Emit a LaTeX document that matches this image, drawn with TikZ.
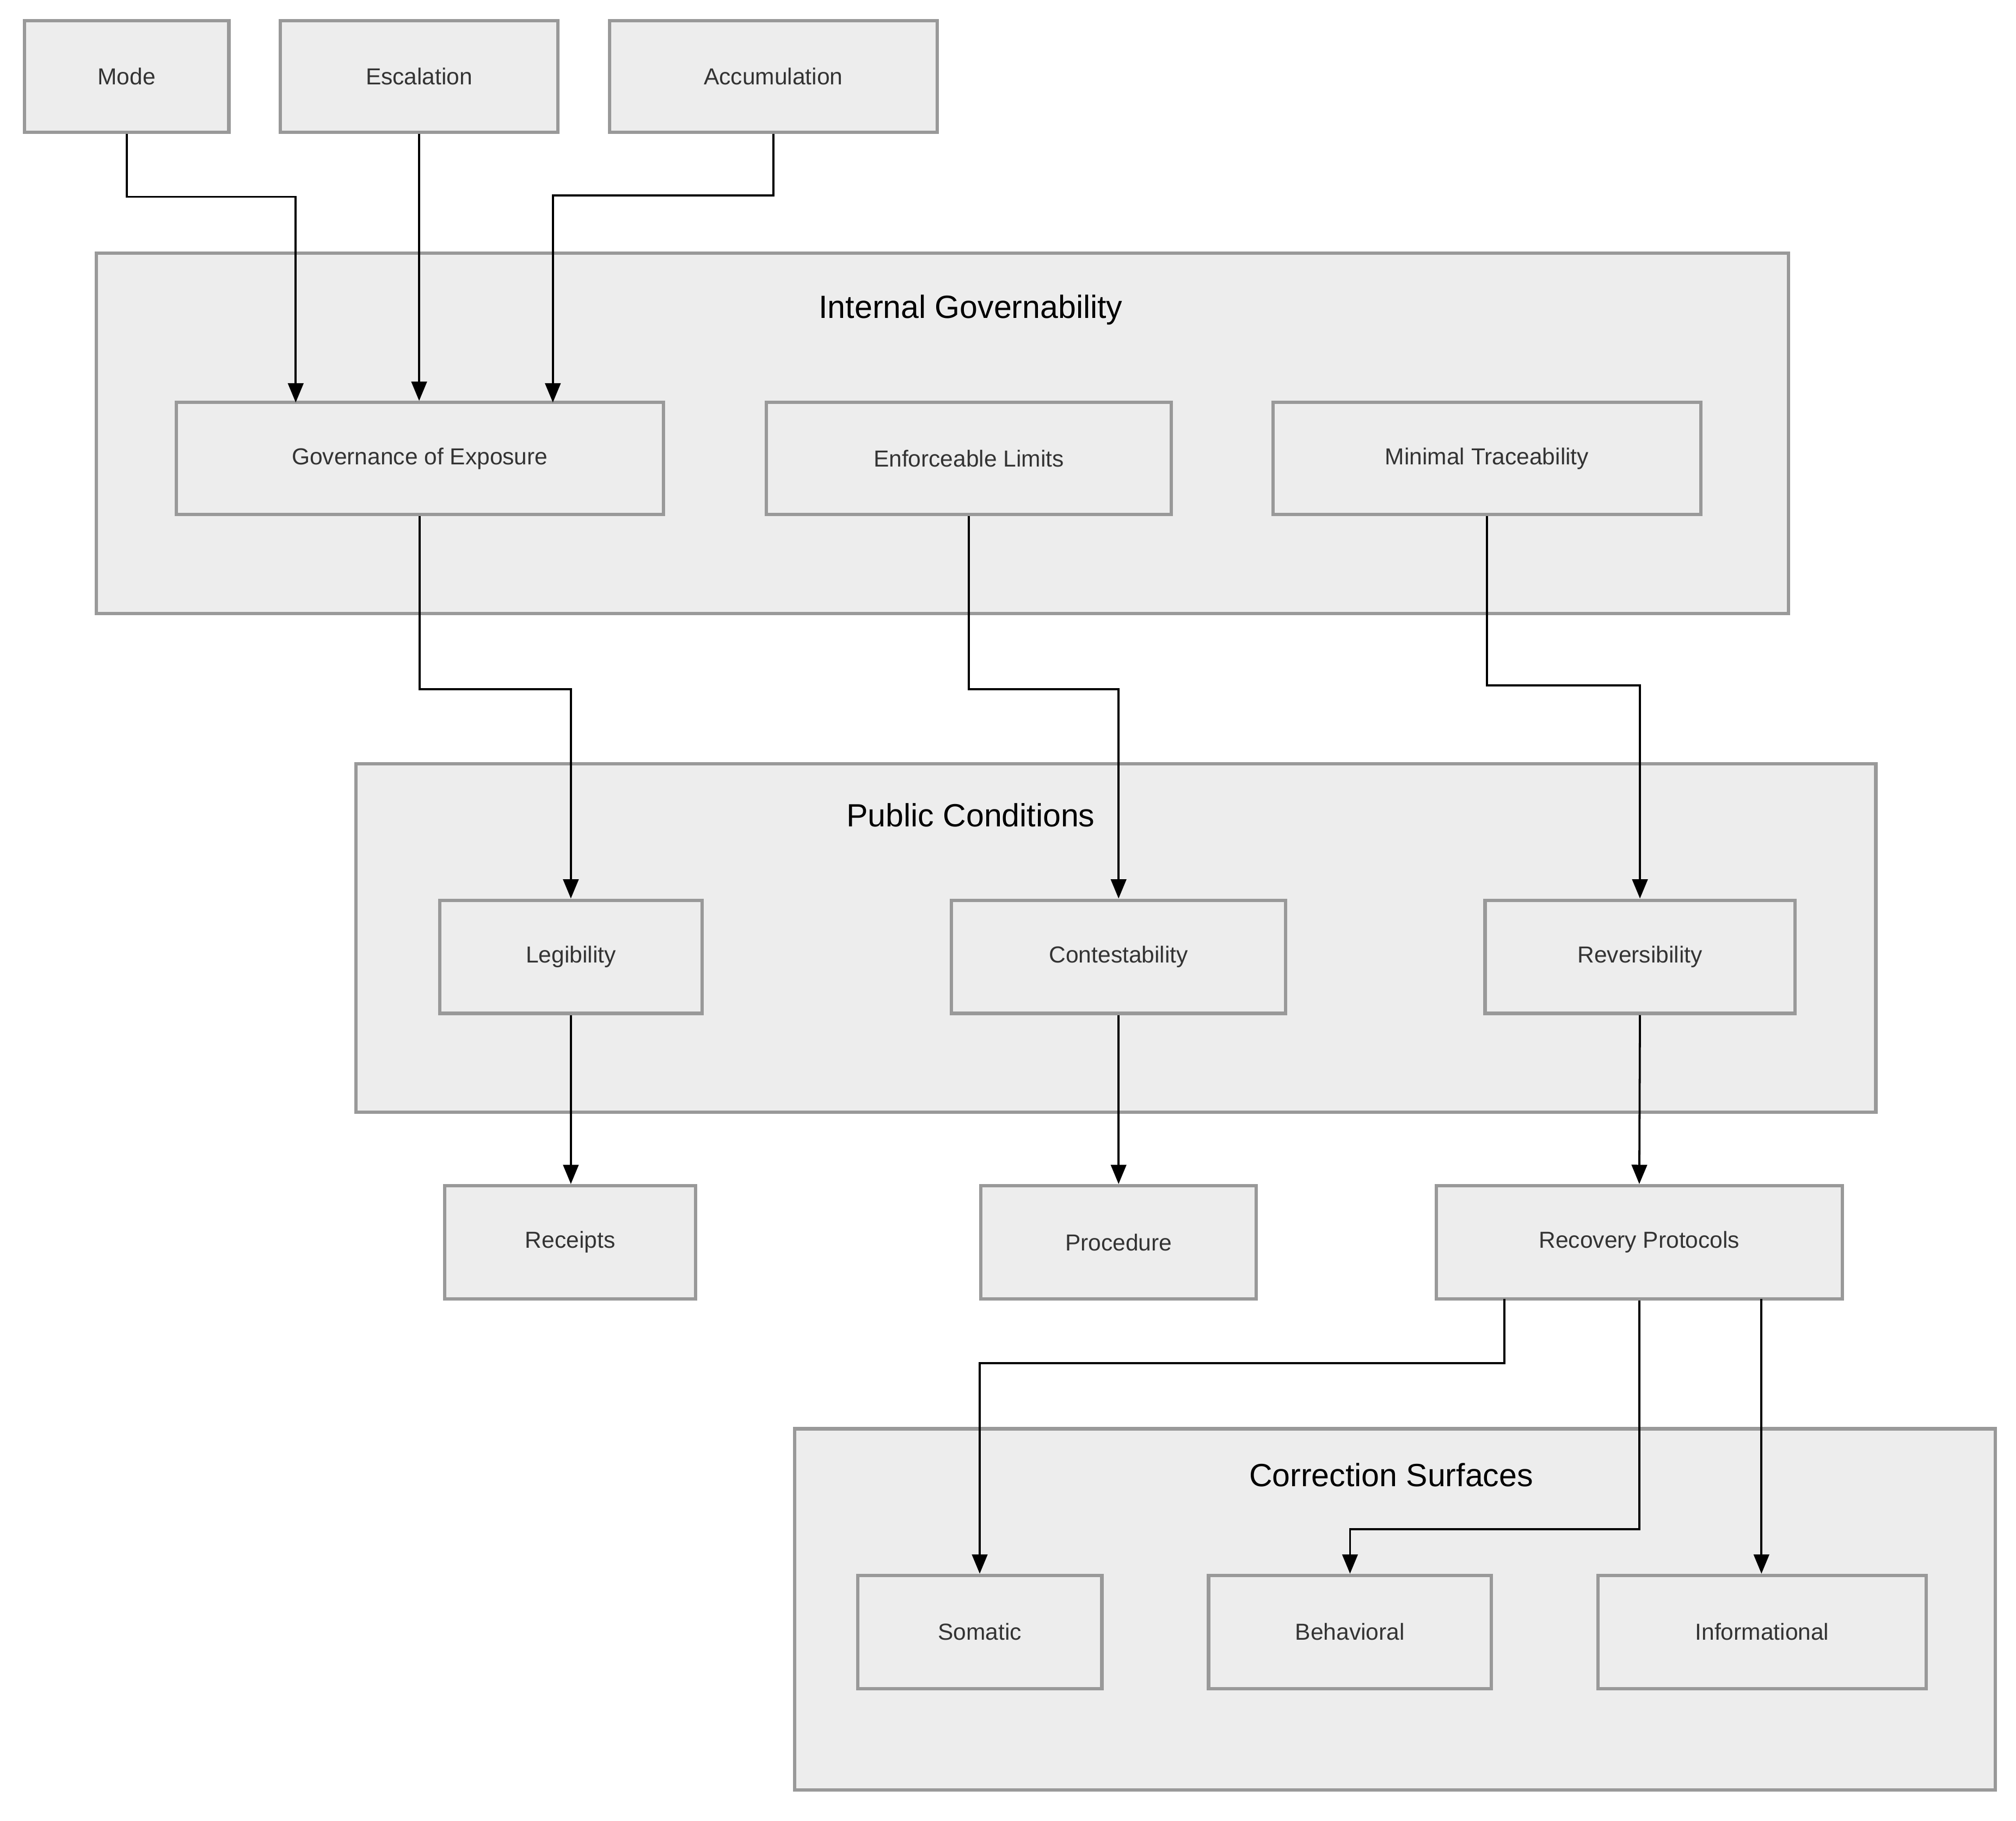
\documentclass[tikz,border=0pt]{standalone}
\usepackage{fontspec}
\setmainfont{Liberation Sans}
\usetikzlibrary{arrows.meta}
\begin{document}
\begin{tikzpicture}[x=1pt,y=-1pt,
  box/.style={draw=black!40,fill=black!7,line width=2.6pt,inner sep=0pt,font=\fontsize{18}{20}\selectfont,text=black!80},
  grp/.style={draw=black!40,fill=black!7,line width=2.6pt,inner sep=0pt},
  ttl/.style={font=\fontsize{25}{28}\selectfont,text=black},
  arr/.style={draw=black,line width=1.6pt,-{Triangle[length=15pt,width=12pt]}}]
\useasboundingbox (0,0) rectangle (1568,1416);
% groups
\node[grp,minimum width=1316pt,minimum height=280pt] (G1) at (733,337) {};
\node[ttl] (t1) at (755,241) {Internal Governability};
\node[grp,minimum width=1182pt,minimum height=271pt] (G2) at (868,729.5) {};
\node[ttl] (t2) at (755,634) {Public Conditions};
\node[grp,minimum width=934pt,minimum height=281pt] (G3) at (1085,1251.5) {};
\node[ttl] (t3) at (1082,1147) {Correction Surfaces};
% top
\node[box,minimum width=159pt,minimum height=87pt] (mode) at (98.5,59.5) {Mode};
\node[box,minimum width=216pt,minimum height=87pt] (esc) at (326,59.5) {Escalation};
\node[box,minimum width=255pt,minimum height=87pt] (acc) at (601.5,59.5) {Accumulation};
% internal
\node[box,minimum width=379pt,minimum height=87pt] (gov) at (326.5,356.5) {Governance of Exposure};
\node[box,minimum width=315pt,minimum height=87pt] (enf) at (753.5,356.5) {Enforceable Limits};
\node[box,minimum width=333pt,minimum height=87pt] (min) at (1156.5,356.5) {Minimal Traceability};
% public
\node[box,minimum width=204pt,minimum height=88pt] (leg) at (444,744) {Legibility};
\node[box,minimum width=260pt,minimum height=88pt] (con) at (870,744) {Contestability};
\node[box,minimum width=241pt,minimum height=88pt] (rev) at (1275.5,744) {Reversibility};
% middle
\node[box,minimum width=195pt,minimum height=88pt] (rec) at (443.5,966) {Receipts};
\node[box,minimum width=214pt,minimum height=88pt] (pro) at (870,966) {Procedure};
\node[box,minimum width=316pt,minimum height=88pt] (rcv) at (1275,966) {Recovery Protocols};
% correction
\node[box,minimum width=190pt,minimum height=88pt] (som) at (762,1269) {Somatic};
\node[box,minimum width=220pt,minimum height=88pt] (beh) at (1050,1269) {Behavioral};
\node[box,minimum width=255pt,minimum height=88pt] (inf) at (1370.5,1269) {Informational};
% coordinates
\coordinate (gA) at (230,313);
\coordinate (gB) at (430,313);
\coordinate (sA) at (1170,1010);
\coordinate (iA) at (1370,1010);
% arrows
\draw[arr] (mode.south) |- (164,153) -| (gA);
\draw[arr] (esc.south) -- (esc.south |- gov.north);
\draw[arr] (acc.south) |- (516,152) -| (gB);
\draw[arr] (gov.south) |- (385,536) -| (leg.north);
\draw[arr] (enf.south) |- (812,536) -| (con.north);
\draw[arr] (min.south) |- (1216,533) -| (rev.north);
\draw[arr] (leg.south) -- (rec.north -| leg.south);
\draw[arr] (con.south) -- (pro.north);
\draw[arr] (rev.south) -- (rcv.north);
\draw[arr] (sA) |- (965,1060) -| (som.north);
\draw[arr] (rcv.south) |- (1160,1189) -| (beh.north);
\draw[arr] (iA) -- (iA |- inf.north);
\end{tikzpicture}
\end{document}
